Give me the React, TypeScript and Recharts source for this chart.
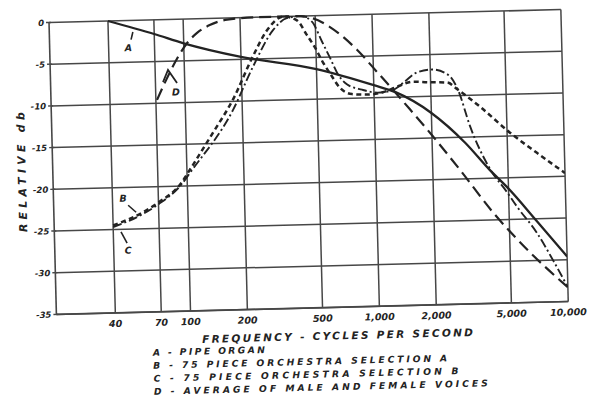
import React from "react";
import { LineChart, Line, XAxis, YAxis, CartesianGrid, ReferenceDot, ReferenceLine } from "recharts";

// axis ticks
const tickHz = [40, 70, 100, 200, 500, 1000, 2000, 5000, 10000];
const tickHzLabels = ["40", "70", "100", "200", "500", "1,000", "2,000", "5,000", "10,000"];
const tickDb = [0, -5, -10, -15, -20, -25, -30, -35];

// A - pipe organ
const organHz = [40, 70, 100, 200, 500, 1000, 1300, 2000, 3000, 4000, 5000, 7000, 10000];
const organDb = [0, -1.7, -2.9, -4.7, -6.4, -8.5, -9.4, -12.0, -15.7, -19.0, -21.3, -25.3, -29.6];

// B - 75 piece orchestra, selection A
const orchAHz = [40, 58, 70, 94, 100, 139, 179, 231, 277, 340, 400, 450, 494, 542, 602, 661, 765, 929, 1143, 1343, 1614, 1915, 2444, 2785, 3626, 5180, 7150, 10000];
const orchADb = [-24.5, -23, -21.9, -19.5, -18.6, -13.7, -9.8, -4.7, -1.6, 0, -0.5, -2.3, -3.8, -5.6, -7.3, -8.7, -9.5, -9.6, -9.3, -8.7, -8.2, -8.3, -8.4, -9.3, -11.4, -14.6, -17.1, -19.6];

// C - 75 piece orchestra, selection B
const orchBHz = [40, 58, 70, 94, 104, 179, 231, 298, 354, 420, 480, 539, 592, 649, 721, 865, 1050, 1245, 1450, 1698, 2040, 2490, 2785, 3190, 4020, 4900, 5520, 6980, 8410, 10000];
const orchBDb = [-24.7, -23.2, -22.1, -19.7, -18.4, -11.0, -5.9, -1.6, -0.2, 0, -0.7, -3.1, -5.1, -7.1, -8.3, -9.0, -9.4, -9.2, -8.2, -7.1, -6.8, -7.5, -9.3, -13.7, -18.9, -21.7, -23.5, -26.7, -30.0, -33.3];

// D - average of male and female voices
const voicesHz = [71, 80, 93, 104, 118, 138, 171, 250, 400, 486, 597, 824, 1043, 1218, 1542, 2022, 2785, 4110, 6370, 10000];
const voicesDb = [-9.6, -7.2, -4.5, -2.9, -1.7, -0.8, -0.2, 0, 0, -0.3, -1.4, -4.2, -6.9, -8.7, -11.5, -14.8, -18.9, -24.1, -29.0, -33.3];

const legendLines = [
  "A - PIPE ORGAN",
  "B - 75 PIECE ORCHESTRA SELECTION A",
  "C - 75 PIECE ORCHESTRA SELECTION B",
  "D - AVERAGE OF MALE AND FEMALE VOICES",
];
const legendWidths = [112, 294, 305, 334];

const toPoints = (hz: number[], db: number[]) => hz.map((h, i) => ({ hz: h, db: db[i] }));

const INK = "#232323";
const GRID = "#474747";
const FONT = "'DejaVu Sans', Verdana, sans-serif";
const PLOT_LEFT = 49;

const letterStyle = {
  fontFamily: FONT,
  fontWeight: 700,
  fontStyle: "italic" as const,
  fill: INK,
};

function XTick({ x, y, payload }: any) {
  const i = tickHz.indexOf(payload.value);
  return (
    <text x={x} y={y + 14} textAnchor="middle" fontSize={9.5} {...letterStyle}>
      {tickHzLabels[i]}
    </text>
  );
}

function YTick({ y, payload }: any) {
  return (
    <g>
      <line x1={PLOT_LEFT - 3} x2={PLOT_LEFT + 2} y1={y} y2={y} stroke={GRID} strokeWidth={1.4} />
      <text x={PLOT_LEFT - 5} y={y + 3.2} textAnchor="end" fontSize={8.5} {...letterStyle}>
        {String(payload.value)}
      </text>
    </g>
  );
}

const tagText = (x: number, y: number, s: string) => (
  <text x={x} y={y + 3.5} textAnchor="middle" fontSize={9.5} {...letterStyle}>
    {s}
  </text>
);

function TagA({ cx, cy }: any) {
  return (
    <g>
      <line x1={cx} y1={cy + 2.5} x2={cx - 2} y2={cy + 10} stroke={INK} strokeWidth={1.6} />
      {tagText(cx - 5, cy + 18, "A")}
    </g>
  );
}

function TagB({ cx, cy }: any) {
  return (
    <g>
      <line x1={cx - 8.8} y1={cy - 7.2} x2={cx - 1} y2={cy} stroke={INK} strokeWidth={1.6} />
      {tagText(cx - 13.6, cy - 14.3, "B")}
    </g>
  );
}

function TagC({ cx, cy }: any) {
  return (
    <g>
      <line x1={cx + 4.7} y1={cy + 5} x2={cx + 10.5} y2={cy + 16.5} stroke={INK} strokeWidth={1.6} />
      {tagText(cx + 11.3, cy + 23.5, "C")}
    </g>
  );
}

function TagD({ cx, cy }: any) {
  return (
    <g>
      <polyline
        points={`${cx - 5.3},${cy + 12} ${cx},${cy} ${cx + 8.7},${cy + 13.2}`}
        fill="none"
        stroke={INK}
        strokeWidth={1.8}
      />
      {tagText(cx + 7.4, cy + 22.2, "D")}
    </g>
  );
}

export default function App() {
  return (
    <div
      style={{
        position: "absolute",
        left: 0,
        top: 0,
        width: 589,
        height: 410,
        transform: "rotate(-1.45deg)",
        transformOrigin: "108px 21px",
      }}
    >
      <LineChart width={589} height={410} margin={{ top: 21, right: 28, bottom: 67, left: 9 }}>
        <CartesianGrid stroke={GRID} strokeWidth={1.5} vertical={false} />
        <XAxis
          type="number"
          dataKey="hz"
          scale="log"
          domain={[19.5, 10000]}
          ticks={tickHz}
          allowDataOverflow
          height={30}
          tickSize={0}
          tickMargin={0}
          tickLine={false}
          axisLine={{ stroke: GRID, strokeWidth: 1.6 }}
          tick={<XTick />}
        />
        <YAxis
          type="number"
          domain={[-35, 0]}
          ticks={tickDb}
          width={40}
          tickLine={false}
          axisLine={{ stroke: GRID, strokeWidth: 1.6 }}
          tick={<YTick />}
        />
        {tickHz.map((hz) => (
          <ReferenceLine key={hz} x={hz} stroke={GRID} strokeWidth={1.5} />
        ))}
        <Line
          data={toPoints(organHz, organDb)}
          dataKey="db"
          type="monotone"
          stroke={INK}
          strokeWidth={2.3}
          dot={false}
          activeDot={false}
          isAnimationActive={false}
        />
        <Line
          data={toPoints(orchAHz, orchADb)}
          dataKey="db"
          type="monotone"
          stroke={INK}
          strokeWidth={2.5}
          strokeDasharray="5 3.5"
          dot={false}
          activeDot={false}
          isAnimationActive={false}
        />
        <Line
          data={toPoints(orchBHz, orchBDb)}
          dataKey="db"
          type="monotone"
          stroke={INK}
          strokeWidth={1.9}
          strokeDasharray="9 3 2 3"
          dot={false}
          activeDot={false}
          isAnimationActive={false}
        />
        <Line
          data={toPoints(voicesHz, voicesDb)}
          dataKey="db"
          type="monotone"
          stroke={INK}
          strokeWidth={2.2}
          strokeDasharray="12 6"
          dot={false}
          activeDot={false}
          isAnimationActive={false}
        />
        <ReferenceDot x={54} y={-1.1} r={0} shape={(p: any) => <TagA cx={p.cx} cy={p.cy} />} />
        <ReferenceDot x={53.8} y={-23} r={0} shape={(p: any) => <TagB cx={p.cx} cy={p.cy} />} />
        <ReferenceDot x={41.5} y={-24.7} r={0} shape={(p: any) => <TagC cx={p.cx} cy={p.cy} />} />
        <ReferenceDot x={81.9} y={-6.05} r={0} shape={(p: any) => <TagD cx={p.cx} cy={p.cy} />} />
      </LineChart>
      <svg
        width={589}
        height={410}
        style={{ position: "absolute", left: 0, top: 0, pointerEvents: "none" }}
      >
        <text
          transform="translate(22,170) rotate(-90)"
          textAnchor="middle"
          fontSize={11}
          textLength={120}
          lengthAdjust="spacing"
          {...letterStyle}
        >
          RELATIVE db
        </text>
        <text x={194} y={345.2} fontSize={10.5} textLength={271} lengthAdjust="spacing" {...letterStyle}>
          FREQUENCY - CYCLES PER SECOND
        </text>
        {legendLines.map((s, i) => (
          <text
            key={s}
            x={144.5}
            y={356.8 + i * 13}
            fontSize={9.2}
            textLength={legendWidths[i]}
            lengthAdjust="spacing"
            {...letterStyle}
          >
            {s}
          </text>
        ))}
      </svg>
    </div>
  );
}
